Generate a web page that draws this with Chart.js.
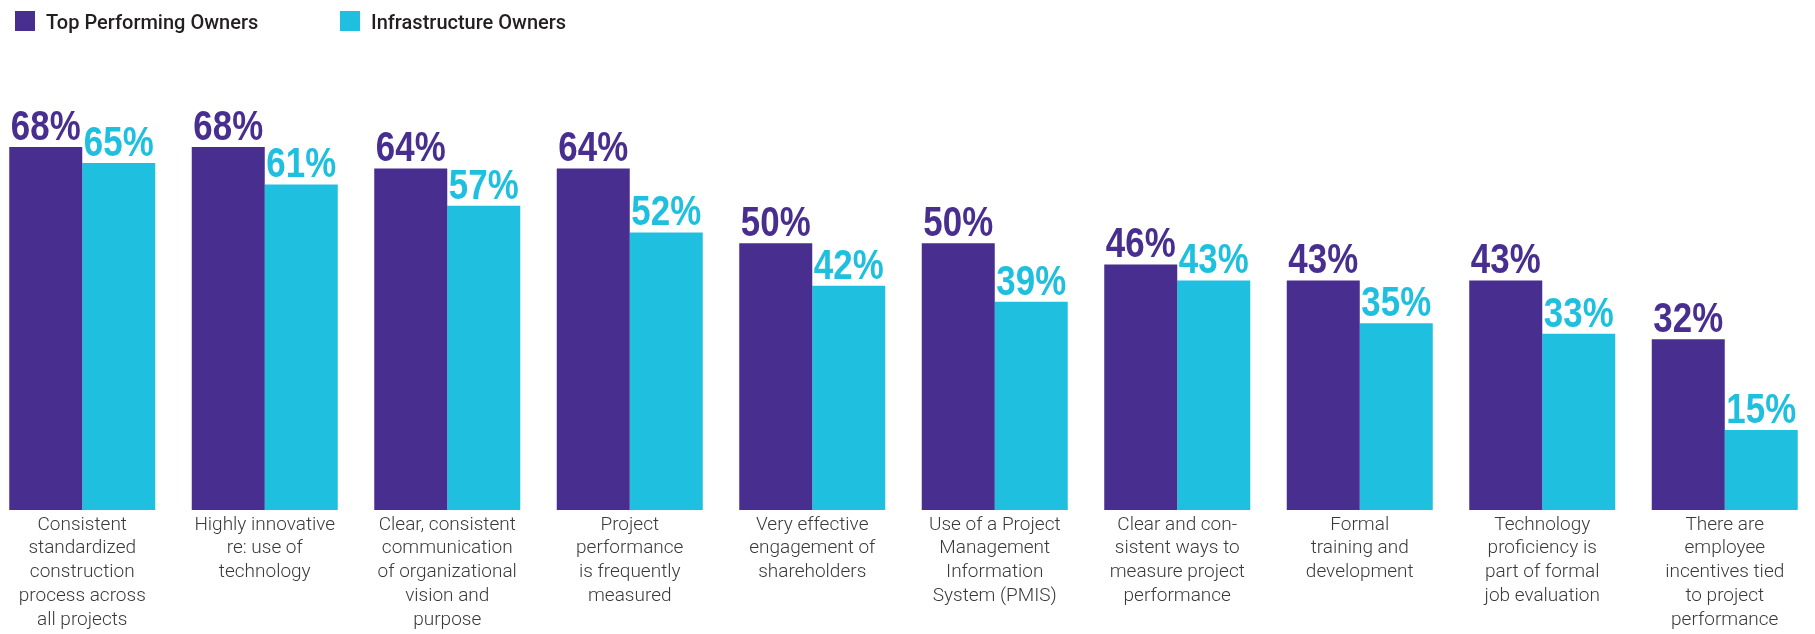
<!DOCTYPE html>
<html>
<head>
<meta charset="utf-8">
<script src="https://cdn.jsdelivr.net/npm/chart.js@4/dist/chart.umd.min.js"></script>
<style>
  html, body { margin: 0; padding: 0; background: #fff; overflow: hidden; }
  #wrap { position: absolute; left: -9px; top: 0; width: 1825px; height: 634px; }
</style>
</head>
<body>
<div id="wrap"><canvas id="ownersChart"></canvas></div>
<script>
const categories = [
    ["Consistent", "standardized", "construction", "process across", "all projects"],
    ["Highly innovative", "re: use of", "technology"],
    ["Clear, consistent", "communication", "of organizational", "vision and", "purpose"],
    ["Project", "performance", "is frequently", "measured"],
    ["Very effective", "engagement of", "shareholders"],
    ["Use of a Project", "Management", "Information", "System (PMIS)"],
    ["Clear and con-", "sistent ways to", "measure project", "performance"],
    ["Formal", "training and", "development"],
    ["Technology", "proficiency is", "part of formal", "job evaluation"],
    ["There are", "employee", "incentives tied", "to project", "performance"]
];
const topPerforming = [68, 68, 64, 64, 50, 50, 46, 43, 43, 32];
const infrastructure = [65, 61, 57, 52, 42, 39, 43, 35, 33, 15];

const PURPLE = '#482E8F';
const CYAN = '#1EBFDF';

// percentage printed just above every bar (squeezed sideways, no narrow font around)
const valueLabels = {
    id: 'valueLabels',
    afterDatasetsDraw(chart) {
        const ctx = chart.ctx;
        ctx.save();
        ctx.font = 'bold 42px "Liberation Sans", Arial, sans-serif';
        ctx.textAlign = 'center';
        ctx.textBaseline = 'alphabetic';
        chart.data.datasets.forEach((ds, i) => {
            ctx.fillStyle = ds.backgroundColor;
            chart.getDatasetMeta(i).data.forEach((bar, j) => {
                ctx.save();
                ctx.translate(bar.x, bar.y - 7);
                ctx.scale(0.83, 1);
                ctx.fillText(`${ds.data[j]}%`, 0, 0);
                ctx.restore();
            });
        });
        ctx.restore();
    }
};

// square swatches + names across the top left
const topLegend = {
    id: 'topLegend',
    afterDraw(chart) {
        const ctx = chart.ctx;
        const spots = [24, 349];
        ctx.save();
        ctx.font = '500 20px Roboto, "Liberation Sans", sans-serif';
        ctx.textBaseline = 'alphabetic';
        chart.data.datasets.forEach((ds, i) => {
            ctx.fillStyle = ds.backgroundColor;
            ctx.fillRect(spots[i], 11, 20, 20);
            ctx.fillStyle = '#231f20';
            ctx.fillText(ds.label, spots[i] + 31, 29);
        });
        ctx.restore();
    }
};

const cvs = document.getElementById('ownersChart');

new Chart(cvs, {
    type: 'bar',
    data: {
        labels: categories,
        datasets: [{
            label: 'Top Performing Owners',
            data: topPerforming,
            backgroundColor: PURPLE
        }, {
            label: 'Infrastructure Owners',
            data: infrastructure,
            backgroundColor: CYAN
        }]
    },
    options: {
        responsive: true,
        maintainAspectRatio: false,
        animation: false,
        layout: {
            padding: { top: 83, left: 0, right: 0, bottom: 0 }
        },
        datasets: {
            bar: {
                categoryPercentage: 0.8,
                barPercentage: 1.0
            }
        },
        plugins: {
            legend: { display: false },
            tooltip: { enabled: false }
        },
        scales: {
            x: {
                grid: { display: false, drawTicks: false },
                border: { display: false },
                ticks: {
                    color: '#3a3a3a',
                    padding: 3,
                    maxRotation: 0,
                    autoSkip: false,
                    font: { family: 'Roboto', weight: 300, size: 19, lineHeight: 1.25 }
                },
                afterFit(scale) {
                    scale.height = 124;
                }
            },
            y: {
                display: false,
                min: 0,
                max: 80
            }
        }
    },
    plugins: [valueLabels, topLegend]
});
</script>
</body>
</html>
